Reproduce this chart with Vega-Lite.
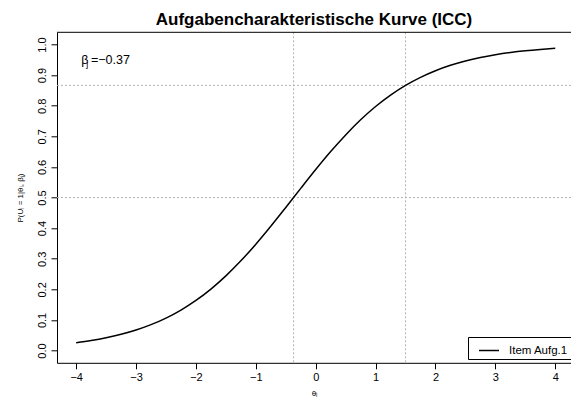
{
  "$schema": "https://vega.github.io/schema/vega-lite/v6.json",
  "width": 514,
  "height": 330.5,
  "autosize": "none",
  "padding": {"left": 57, "top": 32.3, "right": 0, "bottom": 40.2},
  "background": "white",
  "config": {
    "font": "Liberation Sans",
    "view": {"stroke": null},
    "axis": {
      "grid": false,
      "labelFont": "Liberation Sans",
      "labelFontSize": 11,
      "labelColor": "black",
      "labelOverlap": false,
      "tickColor": "black",
      "tickSize": 6,
      "domainColor": "black",
      "titleFont": "Liberation Sans",
      "titleFontSize": 8,
      "titleFontWeight": "normal",
      "titleColor": "black"
    },
    "axisX": {"labelPadding": 3, "titlePadding": 7, "labelFlush": false},
    "axisY": {"labelAngle": -90, "labelAlign": "center", "labelBaseline": "bottom", "labelPadding": 4, "titlePadding": 12}
  },
  "title": {
    "text": "Aufgabencharakteristische Kurve (ICC)",
    "font": "Liberation Sans",
    "fontSize": 17,
    "fontWeight": "bold",
    "color": "black",
    "anchor": "middle",
    "frame": "group",
    "baseline": "alphabetic",
    "offset": 10,
    "dy": 20.5
  },
  "layer": [
    {
      "data": {"values": [{"theta": -0.37}, {"theta": 1.5}]},
      "mark": {"type": "rule", "color": "#b3b3b3", "strokeWidth": 1, "strokeDash": [2, 2]},
      "encoding": {
        "x": {"field": "theta", "type": "quantitative",
          "scale": {"domain": [-4.32, 4.263], "nice": false, "zero": false},
          "axis": {"title": "θᵢ", "values": [-4, -3, -2, -1, 0, 1, 2, 3, 4], "format": "d"}}
      }
    },
    {
      "data": {"values": [{"p": 0.5}, {"p": 0.8665}]},
      "mark": {"type": "rule", "color": "#b3b3b3", "strokeWidth": 1, "strokeDash": [2, 2]},
      "encoding": {
        "y": {"field": "p", "type": "quantitative",
          "scale": {"domain": [-0.04, 1.04], "nice": false, "zero": false},
          "axis": {"title": "P(Uᵢ = 1|θᵢ, βⱼ)", "values": [0, 0.1, 0.2, 0.3, 0.4, 0.5, 0.6, 0.7, 0.8, 0.9, 1.0], "format": ".1f"}}
      }
    },
    {
      "data": {"values": [{"p": 1.04}]},
      "mark": {"type": "rule", "color": "black", "strokeWidth": 1},
      "encoding": {
        "y": {"field": "p", "type": "quantitative",
          "scale": {"domain": [-0.04, 1.04], "nice": false, "zero": false},
          "axis": {"title": "P(Uᵢ = 1|θᵢ, βⱼ)", "values": [0, 0.1, 0.2, 0.3, 0.4, 0.5, 0.6, 0.7, 0.8, 0.9, 1.0], "format": ".1f"}}
      }
    },
    {
      "data": {
        "values": [
          {"theta": -4.0, "p": 0.0258, "item": "Item Aufg.1"},
          {"theta": -3.75, "p": 0.0329, "item": "Item Aufg.1"},
          {"theta": -3.5, "p": 0.0419, "item": "Item Aufg.1"},
          {"theta": -3.25, "p": 0.0532, "item": "Item Aufg.1"},
          {"theta": -3.0, "p": 0.0672, "item": "Item Aufg.1"},
          {"theta": -2.75, "p": 0.0847, "item": "Item Aufg.1"},
          {"theta": -2.5, "p": 0.1062, "item": "Item Aufg.1"},
          {"theta": -2.25, "p": 0.1324, "item": "Item Aufg.1"},
          {"theta": -2.0, "p": 0.1638, "item": "Item Aufg.1"},
          {"theta": -1.75, "p": 0.201, "item": "Item Aufg.1"},
          {"theta": -1.5, "p": 0.2441, "item": "Item Aufg.1"},
          {"theta": -1.25, "p": 0.2932, "item": "Item Aufg.1"},
          {"theta": -1.0, "p": 0.3475, "item": "Item Aufg.1"},
          {"theta": -0.75, "p": 0.4061, "item": "Item Aufg.1"},
          {"theta": -0.5, "p": 0.4675, "item": "Item Aufg.1"},
          {"theta": -0.25, "p": 0.53, "item": "Item Aufg.1"},
          {"theta": 0.0, "p": 0.5915, "item": "Item Aufg.1"},
          {"theta": 0.25, "p": 0.6502, "item": "Item Aufg.1"},
          {"theta": 0.5, "p": 0.7047, "item": "Item Aufg.1"},
          {"theta": 0.75, "p": 0.754, "item": "Item Aufg.1"},
          {"theta": 1.0, "p": 0.7974, "item": "Item Aufg.1"},
          {"theta": 1.25, "p": 0.8348, "item": "Item Aufg.1"},
          {"theta": 1.5, "p": 0.8665, "item": "Item Aufg.1"},
          {"theta": 1.75, "p": 0.8929, "item": "Item Aufg.1"},
          {"theta": 2.0, "p": 0.9145, "item": "Item Aufg.1"},
          {"theta": 2.25, "p": 0.9321, "item": "Item Aufg.1"},
          {"theta": 2.5, "p": 0.9463, "item": "Item Aufg.1"},
          {"theta": 2.75, "p": 0.9577, "item": "Item Aufg.1"},
          {"theta": 3.0, "p": 0.9667, "item": "Item Aufg.1"},
          {"theta": 3.25, "p": 0.9739, "item": "Item Aufg.1"},
          {"theta": 3.5, "p": 0.9796, "item": "Item Aufg.1"},
          {"theta": 3.75, "p": 0.984, "item": "Item Aufg.1"},
          {"theta": 4.0, "p": 0.9875, "item": "Item Aufg.1"}
        ]
      },
      "mark": {"type": "line", "strokeWidth": 1.5, "interpolate": "monotone"},
      "encoding": {
        "x": {"field": "theta", "type": "quantitative",
          "scale": {"domain": [-4.32, 4.263], "nice": false, "zero": false},
          "axis": {"title": "θᵢ", "values": [-4, -3, -2, -1, 0, 1, 2, 3, 4], "format": "d"}},
        "y": {"field": "p", "type": "quantitative",
          "scale": {"domain": [-0.04, 1.04], "nice": false, "zero": false},
          "axis": {"title": "P(Uᵢ = 1|θᵢ, βⱼ)", "values": [0, 0.1, 0.2, 0.3, 0.4, 0.5, 0.6, 0.7, 0.8, 0.9, 1.0], "format": ".1f"}},
        "color": {
          "field": "item",
          "type": "nominal",
          "scale": {"range": ["black"]},
          "legend": {
            "title": null,
            "orient": "none",
            "legendX": 411,
            "legendY": 304.7,
            "symbolType": "stroke",
            "symbolSize": 400,
            "symbolStrokeWidth": 1.5,
            "symbolStrokeColor": "black",
            "strokeColor": "black",
            "fillColor": "white",
            "padding": 2.5,
            "symbolOffset": 7.5,
            "labelOffset": 9,
            "labelFont": "Liberation Sans",
            "labelFontSize": 11.5,
            "labelColor": "black",
            "labelExpr": "datum.label + '   '"
          }
        }
      }
    },
    {
      "data": {"values": [{"theta": -3.915, "p": 0.935, "t": "β"}, {"theta": -3.753, "p": 0.935, "t": "=−0.37"}]},
      "mark": {"type": "text", "align": "left", "baseline": "alphabetic", "fontSize": 12.5, "font": "Liberation Sans", "color": "black"},
      "encoding": {
        "x": {"field": "theta", "type": "quantitative",
          "scale": {"domain": [-4.32, 4.263], "nice": false, "zero": false},
          "axis": {"title": "θᵢ", "values": [-4, -3, -2, -1, 0, 1, 2, 3, 4], "format": "d"}},
        "y": {"field": "p", "type": "quantitative",
          "scale": {"domain": [-0.04, 1.04], "nice": false, "zero": false},
          "axis": {"title": "P(Uᵢ = 1|θᵢ, βⱼ)", "values": [0, 0.1, 0.2, 0.3, 0.4, 0.5, 0.6, 0.7, 0.8, 0.9, 1.0], "format": ".1f"}},
        "text": {"field": "t"}
      }
    },
    {
      "data": {"values": [{"theta": -3.83, "p": 0.927, "t": "j"}]},
      "mark": {"type": "text", "align": "left", "baseline": "alphabetic", "fontSize": 9, "font": "Liberation Sans", "color": "black"},
      "encoding": {
        "x": {"field": "theta", "type": "quantitative",
          "scale": {"domain": [-4.32, 4.263], "nice": false, "zero": false},
          "axis": {"title": "θᵢ", "values": [-4, -3, -2, -1, 0, 1, 2, 3, 4], "format": "d"}},
        "y": {"field": "p", "type": "quantitative",
          "scale": {"domain": [-0.04, 1.04], "nice": false, "zero": false},
          "axis": {"title": "P(Uᵢ = 1|θᵢ, βⱼ)", "values": [0, 0.1, 0.2, 0.3, 0.4, 0.5, 0.6, 0.7, 0.8, 0.9, 1.0], "format": ".1f"}},
        "text": {"field": "t"}
      }
    }
  ]
}
